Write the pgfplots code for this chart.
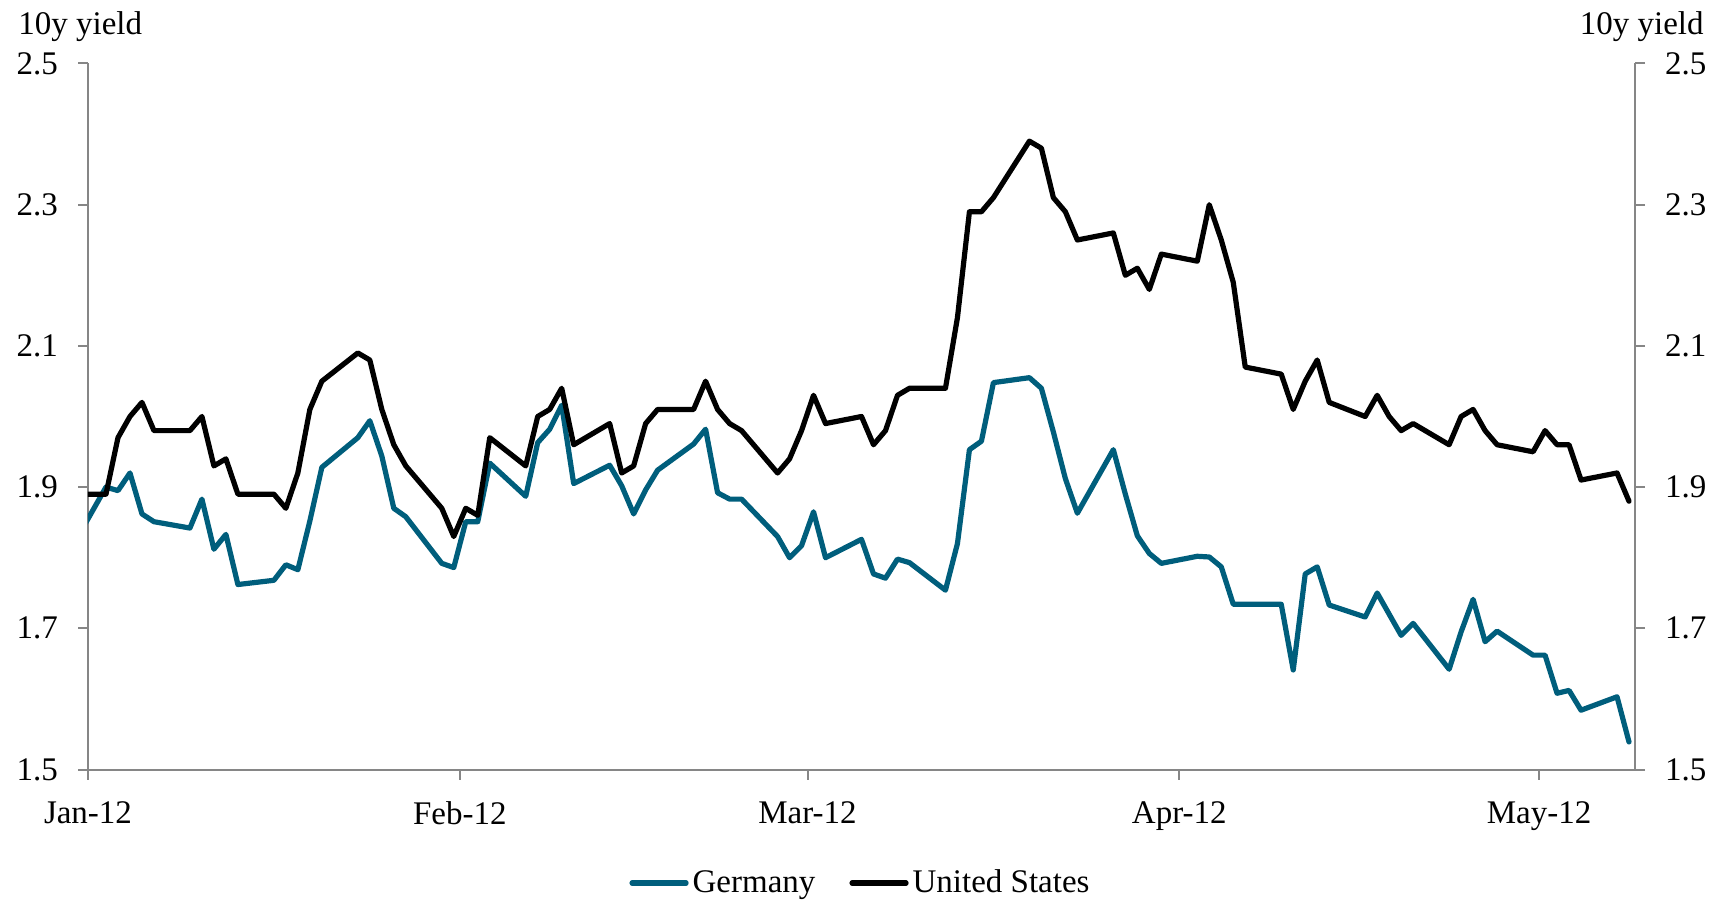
\documentclass[border=0pt]{standalone}
\usepackage{fontspec}
\setmainfont{Liberation Serif}
\usepackage{pgfplots}
\pgfplotsset{compat=1.18}
\definecolor{deteal}{RGB}{0,94,124}
\definecolor{axgray}{RGB}{134,134,134}
\newcommand\cf{\fontsize{16.5pt}{19pt}\selectfont}
\begin{document}
\begin{tikzpicture}
\useasboundingbox (-44pt,-65.25pt) rectangle (817.5pt,384.75pt);
\pgfplotsset{
  common/.style={
    at={(0pt,0pt)}, anchor=south west,
    scale only axis, width=773.5pt, height=353pt,
    xmin=0, xmax=129, ymin=1.5, ymax=2.5,
    ytick={1.5,1.7,1.9,2.1,2.3,2.5},
    tick align=outside, major tick length=5pt,
    every tick/.style={axgray, line width=1pt},
    axis line style={axgray, line width=1pt},
    /pgf/number format/assume math mode=true,
    /pgf/number format/fixed, /pgf/number format/fixed zerofill,
    /pgf/number format/precision=1,
    tick label style={font=\cf, text=black},
  }
}
\begin{axis}[common,
  axis x line*=bottom, axis y line*=left,
  xtick={0,31,60,91,121},
  xticklabels={Jan-12,Feb-12,Mar-12,Apr-12,May-12},
  yticklabel style={xshift=-6.5pt},
  xticklabel style={yshift=-7.5pt},
  legend style={at={(0.5,-0.1608)}, anchor=center, draw=none, fill=none,
    font=\cf, legend columns=2,
    /tikz/every even column/.append style={column sep=15pt},
    inner sep=0pt, row sep=0pt},
  legend cell align=left,
  legend image code/.code={\draw[#1, line width=2.6pt, line cap=round] (0pt,0pt) -- (27pt,0pt);},
]
\addplot[deteal, line width=2.6pt, line join=round, line cap=round] coordinates {
(-1.5,1.81) (1.5,1.900) (2.5,1.895) (3.5,1.920) (4.5,1.862) (5.5,1.851)
(8.5,1.842) (9.5,1.883) (10.5,1.812) (11.5,1.833) (12.5,1.762)
(15.5,1.768) (16.5,1.790) (17.5,1.783) (18.5,1.852) (19.5,1.928)
(22.5,1.970) (23.5,1.994) (24.5,1.944) (25.5,1.870) (26.5,1.858)
(29.5,1.792) (30.5,1.786) (31.5,1.851) (32.5,1.851) (33.5,1.934)
(36.5,1.887) (37.5,1.963) (38.5,1.982) (39.5,2.016) (40.5,1.905)
(43.5,1.931) (44.5,1.902) (45.5,1.862) (46.5,1.896) (47.5,1.924)
(50.5,1.961) (51.5,1.982) (52.5,1.892) (53.5,1.883) (54.5,1.883)
(57.5,1.830) (58.5,1.800) (59.5,1.817) (60.5,1.865) (61.5,1.800)
(64.5,1.826) (65.5,1.777) (66.5,1.771) (67.5,1.798) (68.5,1.793)
(71.5,1.754) (72.5,1.820) (73.5,1.953) (74.5,1.965) (75.5,2.048)
(78.5,2.055) (79.5,2.040) (80.5,1.978) (81.5,1.912) (82.5,1.863)
(85.5,1.953) (86.5,1.890) (87.5,1.831) (88.5,1.806) (89.5,1.792)
(92.5,1.802) (93.5,1.801) (94.5,1.787) (95.5,1.734)
(99.5,1.734) (100.5,1.641) (101.5,1.777) (102.5,1.787) (103.5,1.733)
(106.5,1.716) (107.5,1.750) (108.5,1.720) (109.5,1.690) (110.5,1.707)
(113.5,1.642) (114.5,1.695) (115.5,1.741) (116.5,1.681) (117.5,1.696)
(120.5,1.662) (121.5,1.662) (122.5,1.608) (123.5,1.612) (124.5,1.584)
(127.5,1.603) (128.5,1.539)
};
\addlegendentry{Germany}
\addplot[black, line width=2.6pt, line join=round, line cap=round] coordinates {
(-1.5,1.89) (1.5,1.89) (2.5,1.97) (3.5,2.00) (4.5,2.02) (5.5,1.98)
(8.5,1.98) (9.5,2.00) (10.5,1.93) (11.5,1.94) (12.5,1.89)
(15.5,1.89) (16.5,1.87) (17.5,1.92) (18.5,2.01) (19.5,2.05)
(22.5,2.09) (23.5,2.08) (24.5,2.01) (25.5,1.96) (26.5,1.93)
(29.5,1.87) (30.5,1.83) (31.5,1.87) (32.5,1.86) (33.5,1.97)
(36.5,1.93) (37.5,2.00) (38.5,2.01) (39.5,2.04) (40.5,1.96)
(43.5,1.99) (44.5,1.92) (45.5,1.93) (46.5,1.99) (47.5,2.01)
(50.5,2.01) (51.5,2.05) (52.5,2.01) (53.5,1.99) (54.5,1.98)
(57.5,1.92) (58.5,1.94) (59.5,1.98) (60.5,2.03) (61.5,1.99)
(64.5,2.00) (65.5,1.96) (66.5,1.98) (67.5,2.03) (68.5,2.04)
(71.5,2.04) (72.5,2.14) (73.5,2.29) (74.5,2.29) (75.5,2.31)
(78.5,2.39) (79.5,2.38) (80.5,2.31) (81.5,2.29) (82.5,2.25)
(85.5,2.26) (86.5,2.20) (87.5,2.21) (88.5,2.18) (89.5,2.23)
(92.5,2.22) (93.5,2.30) (94.5,2.25) (95.5,2.19) (96.5,2.07)
(99.5,2.06) (100.5,2.01) (101.5,2.05) (102.5,2.08) (103.5,2.02)
(106.5,2.00) (107.5,2.03) (108.5,2.00) (109.5,1.98) (110.5,1.99)
(113.5,1.96) (114.5,2.00) (115.5,2.01) (116.5,1.98) (117.5,1.96)
(120.5,1.95) (121.5,1.98) (122.5,1.96) (123.5,1.96) (124.5,1.91)
(127.5,1.92) (128.5,1.88)
};
\addlegendentry{United States}
\end{axis}
\begin{axis}[common,
  axis x line=none, axis y line*=right,
  yticklabel style={xshift=6.5pt},
]
\end{axis}
\node[anchor=base west, font=\cf, inner sep=0pt] at (-35pt,367.25pt) {10y yield};
\node[anchor=base east, font=\cf, inner sep=0pt] at (808pt,367.25pt) {10y yield};
\end{tikzpicture}
\end{document}
